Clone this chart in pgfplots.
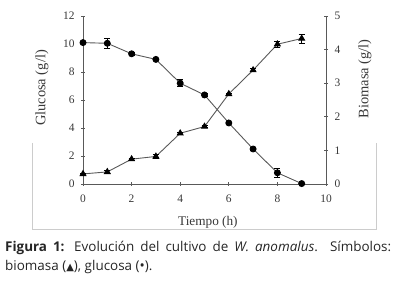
\documentclass[border=0pt]{standalone}
\usepackage{pgfplots}
\pgfplotsset{compat=1.18}
\usepackage{fontspec}
\setmainfont{Liberation Serif}
\newfontfamily\capfont{Open Sans}
\newfontfamily\symfont{DejaVu Sans}
\definecolor{axcol}{gray}{0.35}
\definecolor{txtcol}{gray}{0.22}
\pgfplotsset{
  base/.style={
    at={(83bp,99bp)}, anchor=south west, scale only axis,
    width=243bp, height=168bp, xmin=0, xmax=10,
    font=\fontsize{11.5}{13}\selectfont,
    tick align=center, major tick length=4bp,
    axis line style={axcol, line width=0.9bp},
    every tick/.style={axcol, line width=0.8bp},
    tick label style={text=txtcol},
    label style={text=txtcol},
    /pgf/number format/assume math mode=true,
    clip=false,
  },
  lin/.style={color=axcol, line width=0.9bp, mark options={fill=black, draw=black, solid}},
  eb/.style={error bars/.cd, y dir=both, y explicit,
     error bar style={black, line width=0.7bp},
     error mark options={black, rotate=90, mark size=3bp, line width=0.7bp}},
}
\begin{document}
\begin{tikzpicture}[x=1bp,y=1bp]
\useasboundingbox (0,0) rectangle (400,283);
\draw[gray!40, line width=0.8bp] (32,140) -- (32,54) -- (376,54) -- (376,140);
\begin{axis}[base,
  ymin=0, ymax=12,
  axis x line*=bottom, axis y line*=left,
  xtick={0,2,...,10}, ytick={0,2,...,12},
  xticklabel style={yshift=-5bp},
  yticklabel style={xshift=-3bp},
  xlabel={Tiempo (h)}, ylabel={Glucosa (g/l)},
  xlabel style={at={(axis description cs:0.514,-0.226)}, anchor=center, font=\fontsize{13.3}{15}\selectfont},
  ylabel style={at={(axis description cs:-0.169,0.571)}, anchor=center, rotate=0, font=\fontsize{14.5}{16}\selectfont},
]
\addplot[lin, mark=*, mark size=3bp, eb] table[x=t, y=g, y error=e] {
t g e
0 10.1 0.05
1 10.05 0.35
2 9.3 0.1
3 8.9 0.1
4 7.2 0.25
5 6.36 0.1
6 4.36 0.05
7 2.5 0.1
8 0.8 0.3
9 0.03 0.02
};
\end{axis}
\begin{axis}[base,
  ymin=0, ymax=5,
  axis y line*=right, axis x line=none,
  ytick={0,1,...,5},
  yticklabel style={xshift=3bp},
  ylabel={Biomasa (g/l)},
  ylabel style={at={(axis description cs:1.160,0.625)}, anchor=center, rotate=0, font=\fontsize{14.5}{16}\selectfont},
]
\addplot[lin, mark=triangle*, mark size=3.3bp, eb] table[x=t, y=b, y error=e] {
t b e
0 0.30 0.03
1 0.36 0.05
2 0.74 0.03
3 0.82 0.06
4 1.51 0.04
5 1.71 0.03
6 2.68 0.03
7 3.39 0.04
8 4.16 0.1
9 4.33 0.13
};
\end{axis}
\node[anchor=base west, inner sep=0, text=black!85] at (5,32) {\capfont\fontsize{13.5}{15}\selectfont\makebox[386bp][s]{\textbf{Figura 1:} Evolución del cultivo de \textit{W. anomalus}. Símbolos:}};
\node[anchor=base west, inner sep=0, text=black!85] at (5,13) {\capfont\fontsize{13.5}{15}\selectfont biomasa ({\symfont\fontsize{10}{11}\selectfont ▲}), glucosa ({\fontsize{14}{11}\selectfont •}).};
\end{tikzpicture}
\end{document}
